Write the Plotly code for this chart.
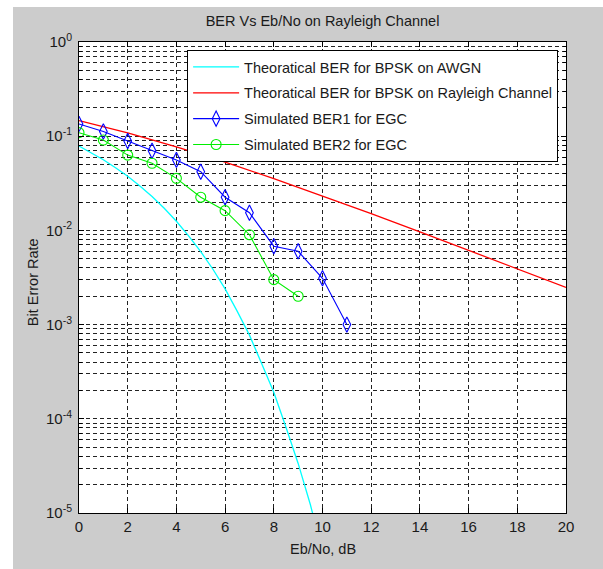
import plotly.graph_objects as go

# ---------------- data ----------------
ebno_awgn = [0, 0.5, 1, 1.5, 2, 2.5, 3, 3.5, 4, 4.5, 5, 5.5, 6, 6.5, 7, 7.5, 8, 8.5, 9, 9.5, 10]
ber_awgn = [0.0786, 0.0671, 0.0563, 0.0462, 0.0375, 0.0296, 0.0229, 0.0172, 0.0125,
            0.00873, 0.00595, 0.00387, 0.00239, 0.00138, 0.000773, 0.000386, 0.000191,
            8.12e-5, 3.36e-5, 1.23e-5, 3.87e-6]

ebno_ray = [0, 2, 4, 6, 8, 10, 12, 14, 16, 18, 20]
ber_ray = [0.1464, 0.1085, 0.0771, 0.0530, 0.0355, 0.0233, 0.0151, 0.00967, 0.00617, 0.00393, 0.00248]

ebno_sim1 = [0, 1, 2, 3, 4, 5, 6, 7, 8, 9, 10, 11]
ber_sim1 = [0.135, 0.112, 0.089, 0.070, 0.056, 0.042, 0.0225, 0.0154, 0.0068, 0.0060, 0.0031, 0.00100]

ebno_sim2 = [0, 1, 2, 3, 4, 5, 6, 7, 8, 9]
ber_sim2 = [0.109, 0.091, 0.063, 0.0516, 0.0357, 0.0225, 0.0162, 0.0090, 0.0030, 0.00200]

x_ticks = [0, 2, 4, 6, 8, 10, 12, 14, 16, 18, 20]
y_ticks = [1e-5, 1e-4, 1e-3, 1e-2, 1e-1, 1]
y_tick_text = ["10<sup>-5</sup>", "10<sup>-4</sup>", "10<sup>-3</sup>", "10<sup>-2</sup>",
               "10<sup>-1</sup>", "10<sup>0</sup>"]
y_minor = [k * 10.0 ** e for e in range(-5, 0) for k in range(2, 10)]

legend_names = ["Theoratical BER for BPSK on AWGN",
                "Theoratical BER for BPSK on Rayleigh Channel",
                "Simulated BER1 for EGC",
                "Simulated BER2 for EGC"]

FONT = "Arial, 'Liberation Sans', sans-serif"
GRID_DASH = "4px,3px"
TXT = "#1a1a1a"

fig = go.Figure()
fig.add_trace(go.Scatter(x=ebno_awgn, y=ber_awgn, mode="lines", name=legend_names[0],
                         line=dict(color="#00ffff", width=1.3), legendgroup="a"))
fig.add_trace(go.Scatter(x=ebno_ray, y=ber_ray, mode="lines", name=legend_names[1],
                         line=dict(color="#ff0000", width=1.3), legendgroup="b"))
fig.add_trace(go.Scatter(x=ebno_sim1, y=ber_sim1, mode="lines+markers", name=legend_names[2],
                         line=dict(color="#0000ff", width=1.1),
                         marker=dict(symbol="diamond-tall-open", size=11, color="#0000ff",
                                     line=dict(width=1.1)), legendgroup="c"))
fig.add_trace(go.Scatter(x=ebno_sim2, y=ber_sim2, mode="lines+markers", name=legend_names[3],
                         line=dict(color="#00ee00", width=1.1),
                         marker=dict(symbol="circle-open", size=10, color="#00ee00",
                                     line=dict(width=1.1)), legendgroup="d"))

fig.update_layout(
    width=603, height=569, autosize=False,
    margin=dict(l=79, r=37, t=42, b=56, autoexpand=False),
    paper_bgcolor="#cccccc", plot_bgcolor="white",
    font=dict(family=FONT, size=14, color=TXT),
    title=dict(text="BER Vs Eb/No on Rayleigh Channel", x=0.5, xref="paper", xanchor="center",
               y=1 - 21 / 569, yref="container", yanchor="middle",
               font=dict(size=14.5, color=TXT)),
    showlegend=True,
    legend=dict(x=0.222, xanchor="left", y=0.983, yanchor="top",
                bgcolor="white", bordercolor="black", borderwidth=1,
                font=dict(size=14.5, color=TXT), itemwidth=46,
                tracegroupgap=4),
    xaxis=dict(range=[0, 20], tickvals=x_ticks, ticks="inside", ticklen=5, tickcolor="black",
               showline=True, linecolor="black", linewidth=1, mirror="allticks",
               showgrid=True, gridcolor="#222222", gridwidth=1, griddash=GRID_DASH,
               zeroline=False, tickfont=dict(size=15)),
    yaxis=dict(type="log", range=[-5, 0], tickvals=y_ticks, ticktext=y_tick_text,
               ticks="inside", ticklen=5, tickcolor="black",
               showline=True, linecolor="black", linewidth=1, mirror="allticks",
               showgrid=True, gridcolor="#222222", gridwidth=1, griddash=GRID_DASH,
               zeroline=False, tickfont=dict(size=15), ticklabelstandoff=3,
               minor=dict(tickvals=y_minor, showgrid=True, gridcolor="#222222",
                          griddash=GRID_DASH, gridwidth=1, ticks="inside", ticklen=3,
                          tickcolor="black")),
    annotations=[
        dict(text="Eb/No, dB", x=0.5, y=(513 - 549) / 471, xref="paper", yref="paper",
             showarrow=False, xanchor="center", yanchor="middle", font=dict(size=14.5)),
        dict(text="Bit Error Rate", x=(33 - 79) / 487, y=0.49, xref="paper", yref="paper",
             showarrow=False, textangle=-90, xanchor="center", yanchor="middle",
             font=dict(size=14.5)),
    ],
    shapes=[
        dict(type="rect", xref="paper", yref="paper", x0=-79 / 487, x1=(13 - 79) / 487,
             y0=-56 / 471, y1=1 + 42 / 471, fillcolor="white", line=dict(width=0), layer="below"),
        dict(type="rect", xref="paper", yref="paper", x0=-79 / 487, x1=1 + 37 / 487,
             y0=1 + 35 / 471, y1=1 + 42 / 471, fillcolor="white", line=dict(width=0), layer="below"),
    ],
)

fig.write_html("out.html")
